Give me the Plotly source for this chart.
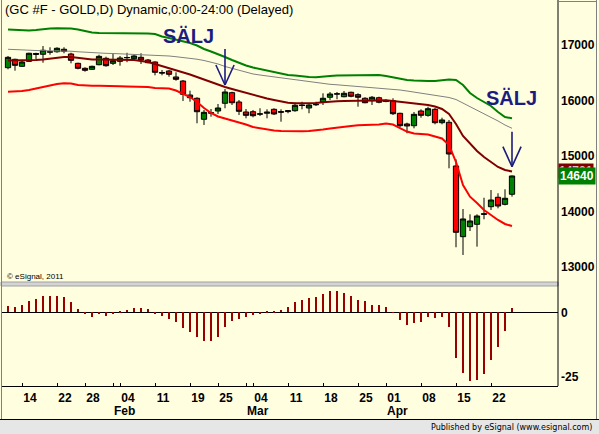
import plotly.graph_objects as go

# ---------------- data ----------------
bar_index = list(range(73))  # trading days 2013-01-10 .. 2013-04-25

opens = [16591,16742,16616,16706,16830,16833,16870,16879,16923,16838,
         16670,16580,16562,16645,16760,16670,16706,16770,16753,16778,
         16730,16694,16505,16532,16424,16351,16099,16040,15661,15780,
         15811,15950,16141,15973,15793,15798,15760,15770,15841,15800,
         15800,15816,15920,15865,15930,15973,16058,16115,16068,16148,
         16105,16040,15996,16050,15990,15996,15769,15577,15546,15811,
         15733,15841,15600,15607,14820,13546,13726,13769,13960,14086,
         14256,14129,14310]
highs = [16802,16753,16717,16861,16861,16982,16959,16959,16959,16861,
         16681,16598,16627,16825,16789,16838,16802,16860,16820,16851,
         16748,16706,16550,16550,16508,16370,16177,16058,15829,15847,
         15937,16207,16159,16009,15847,15829,15860,15841,15860,15841,
         15829,15961,15978,15950,15978,16130,16153,16153,16171,16159,
         16130,16058,16081,16068,16022,16040,15780,15600,15793,15841,
         15888,15865,15690,15649,14940,14045,13949,13949,14248,14387,
         14328,14400,14650]
lows = [16562,16537,16609,16694,16742,16681,16825,16861,16851,16670,
        16562,16519,16550,16634,16609,16640,16627,16690,16730,16658,
        16670,16454,16454,16429,16357,15991,15978,15589,15559,15708,
        15757,15860,15919,15738,15679,15697,15721,15679,15738,15618,
        15770,15798,15841,15770,15901,15919,16009,16022,16058,16058,
        15888,15950,15919,15950,15968,15738,15517,15409,15499,15690,
        15708,15571,15571,14778,13355,13216,13648,13366,13859,14027,
        14057,14111,14267]
closes = [16778,16634,16694,16851,16845,16905,16880,16941,16887,16724,
          16580,16544,16616,16796,16627,16717,16766,16775,16802,16730,
          16681,16508,16495,16472,16382,16112,16050,15798,15787,15775,
          15865,16153,15960,15805,15733,15726,15755,15790,15757,15790,
          15815,15914,15910,15919,15925,16040,16117,16120,16130,16076,
          16058,15960,16058,15968,15985,15762,15546,15541,15751,15733,
          15852,15600,15649,15036,13625,13865,13829,13919,13950,14207,
          14099,14238,14640]

upper_band = [17279,17270,17261,17261,17270,17288,17297,17301,17301,17297,
              17279,17252,17225,17216,17216,17216,17216,17216,17211,17207,
              17207,17198,17153,17126,17099,17072,17036,16991,16928,16883,
              16838,16784,16730,16676,16631,16595,16568,16532,16505,16478,
              16459,16450,16432,16423,16418,16423,16441,16450,16450,16454,
              16456,16459,16459,16459,16441,16414,16387,16369,16360,16351,
              16351,16351,16369,16378,16369,16279,16135,16045,15973,15901,
              15793,15703,15679]
grey_line = [16923,16915,16910,16905,16901,16897,16897,16896,16892,16888,
             16878,16869,16860,16852,16850,16847,16843,16838,16834,16831,
             16827,16820,16811,16802,16789,16778,16762,16744,16721,16694,
             16658,16613,16577,16541,16505,16478,16459,16441,16423,16405,
             16387,16369,16351,16333,16315,16301,16292,16283,16274,16265,
             16256,16247,16238,16225,16213,16202,16189,16171,16153,16135,
             16117,16099,16081,16054,16018,15955,15883,15820,15757,15694,
             15631,15558,15499]
middle_band = [16721,16721,16721,16724,16730,16739,16757,16775,16784,16784,
               16766,16748,16739,16739,16739,16730,16730,16730,16730,16712,
               16694,16658,16622,16586,16550,16514,16469,16423,16378,16333,
               16279,16243,16207,16171,16135,16099,16068,16036,16009,15982,
               15960,15951,15950,15950,15955,15968,15982,15986,15991,15995,
               15996,16000,16000,16004,16004,15991,15978,15964,15951,15937,
               15919,15892,15847,15757,15576,15360,15216,15090,14982,14892,
               14802,14748,14721]
lower_band = [16159,16159,16171,16189,16216,16234,16270,16297,16310,16306,
              16279,16270,16267,16267,16267,16261,16256,16252,16249,16249,
              16243,16225,16220,16216,16180,16117,16063,15973,15865,15775,
              15712,15676,15640,15613,15568,15522,15499,15477,15459,15450,
              15445,15445,15445,15450,15459,15477,15495,15513,15531,15540,
              15553,15558,15558,15567,15585,15567,15504,15441,15405,15396,
              15387,15351,15315,15198,14892,14477,14266,14153,14027,13937,
              13847,13775,13738]

oscillator = [2.46,1.94,2.85,4.4,5.17,6.34,6.34,6.34,5.95,4.0,
              1.29,-0.39,-1.68,-0.39,-1.29,-0.39,0.52,0.9,1.68,1.68,
              1.16,-0.39,-1.29,-2.46,-3.75,-5.95,-7.5,-9.7,-11.0,-11.0,
              -9.44,-5.56,-3.23,-2.46,-1.94,-1.16,-0.65,0.52,0.52,0.9,
              2.2,4.0,4.79,5.69,6.08,7.1,8.28,8.28,7.63,6.47,
              4.79,4.5,3.0,2.9,2.2,0.1,-2.98,-4.79,-4.01,-3.88,
              -1.81,-2.07,-1.68,-5.56,-17.6,-23.4,-26.5,-26.3,-23.9,-18.5,
              -13.3,-7.24,1.55]

day_tick_index = [2, 7, 11, 16, 21, 26, 30, 35, 40, 45, 50, 54, 59, 64, 69]
day_tick_text = ["14", "22", "28", "04", "11", "19", "25", "04", "11", "18",
                 "25", "01", "08", "15", "22"]
month_index = [15, 34, 54]
month_text = ["Feb", "Mar", "Apr"]
price_ticks = [13000, 14000, 15000, 16000, 17000]
osc_ticks = [0, -25]

# sell signals: (bar index, arrow tail price, arrow tip price, head price)
signals = [(31, 16928, 16280, 16640), (72, 15438, 14807, 15168)]

# ---------------- layout geometry ----------------
W, H = 599, 434
L, R, T, B = 1, 41, 0, 48
PW, PH = W - L - R, H - T - B
def px(x):
    return (x - L) / PW
def py(y):
    return (H - B - y) / PH

BG = "#FFFFE0"
FONT = "Liberation Sans"
NAVY = "#1c1c80"
xr = [-1, (558 - 8) / 7]

fig = go.Figure()
fig.add_trace(go.Candlestick(
    x=bar_index, open=opens, high=highs, low=lows, close=closes,
    increasing=dict(line=dict(color="black", width=1), fillcolor="#008000"),
    decreasing=dict(line=dict(color="black", width=1), fillcolor="#FF0000"),
    whiskerwidth=0, xaxis="x", yaxis="y", hoverinfo="skip"))
for vals, col, wd in [(upper_band, "#008000", 2), (grey_line, "#808080", 1),
                      (middle_band, "#800000", 2), (lower_band, "#FF0000", 2)]:
    fig.add_trace(go.Scatter(x=bar_index, y=vals, mode="lines",
                             line=dict(color=col, width=wd),
                             xaxis="x", yaxis="y", hoverinfo="skip"))
fig.add_trace(go.Bar(x=bar_index, y=oscillator, width=0.3,
                     marker=dict(color="#990000", line=dict(width=0)),
                     xaxis="x2", yaxis="y2", hoverinfo="skip"))

shapes = []
for (i, tail, tip, head) in signals:
    for (x0, y0) in [(i, tail), (i - 1.3, head), (i + 1.3, head)]:
        shapes.append(dict(type="line", xref="x", yref="y", x0=x0, y0=y0,
                           x1=i, y1=tip, line=dict(color=NAVY, width=1.6)))
# pane separator
shapes.append(dict(type="rect", xref="paper", yref="paper", x0=px(1), x1=px(558),
                   y0=py(286), y1=py(282), fillcolor="#D4D4D4",
                   line=dict(color="#A0A0A0", width=1), layer="above"))
# right axis line
shapes.append(dict(type="line", xref="paper", yref="paper", x0=1, x1=1,
                   y0=0, y1=1, line=dict(color="black", width=1)))
# status bar
shapes.append(dict(type="rect", xref="paper", yref="paper", x0=px(0), x1=px(599),
                   y0=py(434), y1=py(419.5), fillcolor="#E6E6E6", line=dict(width=0)))
shapes.append(dict(type="line", xref="paper", yref="paper", x0=px(0), x1=px(599),
                   y0=py(419.5), y1=py(419.5), line=dict(color="black", width=1)))
# frame lines
shapes.append(dict(type="line", xref="paper", yref="paper", x0=px(1.5), x1=px(1.5),
                   y0=py(0), y1=py(419), line=dict(color="#808080", width=1)))
shapes.append(dict(type="line", xref="paper", yref="paper", x0=px(596.5), x1=px(596.5),
                   y0=py(0), y1=py(419), line=dict(color="#808080", width=1)))
shapes.append(dict(type="line", xref="paper", yref="paper", x0=px(558), x1=px(597),
                   y0=py(1.5), y1=py(1.5), line=dict(color="#808080", width=1)))

ann = []
ann.append(dict(text="(GC #F - GOLD,D) Dynamic,0:00-24:00 (Delayed)",
                xref="paper", yref="paper", x=px(3), y=py(10), xanchor="left",
                yanchor="middle", showarrow=False,
                font=dict(family=FONT, size=13, color="black")))
for (cx, cy) in [(188, 36), (511, 98)]:
    ann.append(dict(text="SÄLJ", xref="paper", yref="paper", x=px(cx), y=py(cy),
                    xanchor="center", yanchor="middle", showarrow=False,
                    font=dict(family=FONT, size=20, color=NAVY, weight="bold")))
ann.append(dict(text="© eSignal, 2011", xref="paper", yref="paper", x=px(5), y=py(276),
                xanchor="left", yanchor="middle", showarrow=False,
                font=dict(family=FONT, size=8, color="black")))
ann.append(dict(text="Published by eSignal (www.esignal.com)", xref="paper",
                yref="paper", x=px(594), y=py(427), xanchor="right", yanchor="middle",
                showarrow=False, font=dict(family="DejaVu Sans", size=8, color="black")))
for mi, mt in zip(month_index, month_text):
    ann.append(dict(text=mt, xref="x2", yref="paper", x=mi, y=py(411), xanchor="left",
                    yanchor="middle", showarrow=False, xshift=-1,
                    font=dict(family=FONT, size=12, color="black", weight="bold")))
ann.append(dict(text=str(middle_band[-1]), xref="paper", yref="y", x=1, y=middle_band[-1],
                xanchor="left", yanchor="middle", showarrow=False, bgcolor="#800000",
                borderpad=0, font=dict(family=FONT, size=12, color="#E0C0C0", weight="bold")))
ann.append(dict(text=str(closes[-1]), xref="paper", yref="y", x=1, y=closes[-1],
                xanchor="left", yanchor="middle", showarrow=False, bgcolor="#008000",
                borderpad=1, font=dict(family=FONT, size=12, color="white", weight="bold")))

tickfont = dict(family=FONT, size=12, color="black", weight="bold")
fig.update_layout(
    width=W, height=H, margin=dict(l=L, r=R, t=T, b=B, pad=0),
    paper_bgcolor=BG, plot_bgcolor=BG, showlegend=False, bargap=0,
    boxgap=0.25, boxgroupgap=0,
    xaxis=dict(domain=[0, 1], range=xr, matches="x2", anchor="y",
               showticklabels=False, showgrid=False, zeroline=False, ticks="",
               rangeslider=dict(visible=False), fixedrange=True),
    xaxis2=dict(domain=[0, 1], range=xr, anchor="y2",
                tickmode="array", tickvals=day_tick_index + month_index[:2],
                ticktext=day_tick_text + ["", ""],
                ticks="inside", ticklen=3, tickcolor="black",
                showline=True, linecolor="black", linewidth=1,
                showgrid=False, zeroline=False, tickfont=tickfont,
                ticklabelshift=8, ticklabelstandoff=1),
    yaxis=dict(domain=[py(282), 1], range=[17811 - 18.02 * 282, 17811], anchor="x",
               side="right", tickvals=price_ticks, ticktext=[str(v) for v in price_ticks],
               showgrid=False, zeroline=False, ticks="", tickfont=tickfont,
               ticklabelstandoff=2),
    yaxis2=dict(domain=[0, py(287)], range=[(312.3 - 386) / 2.576, (312.3 - 287) / 2.576],
                anchor="x2", side="right", tickvals=osc_ticks,
                ticktext=[str(v) for v in osc_ticks], showgrid=False,
                zeroline=True, zerolinecolor="black", zerolinewidth=1,
                ticks="", tickfont=tickfont, ticklabelstandoff=2),
    shapes=shapes, annotations=ann,
)
fig.write_html(
    "out.html",
    config={"displayModeBar": False},
    post_script="document.body.style.margin='0';document.body.style.padding='0';"
                "document.body.style.overflow='hidden';",
)
